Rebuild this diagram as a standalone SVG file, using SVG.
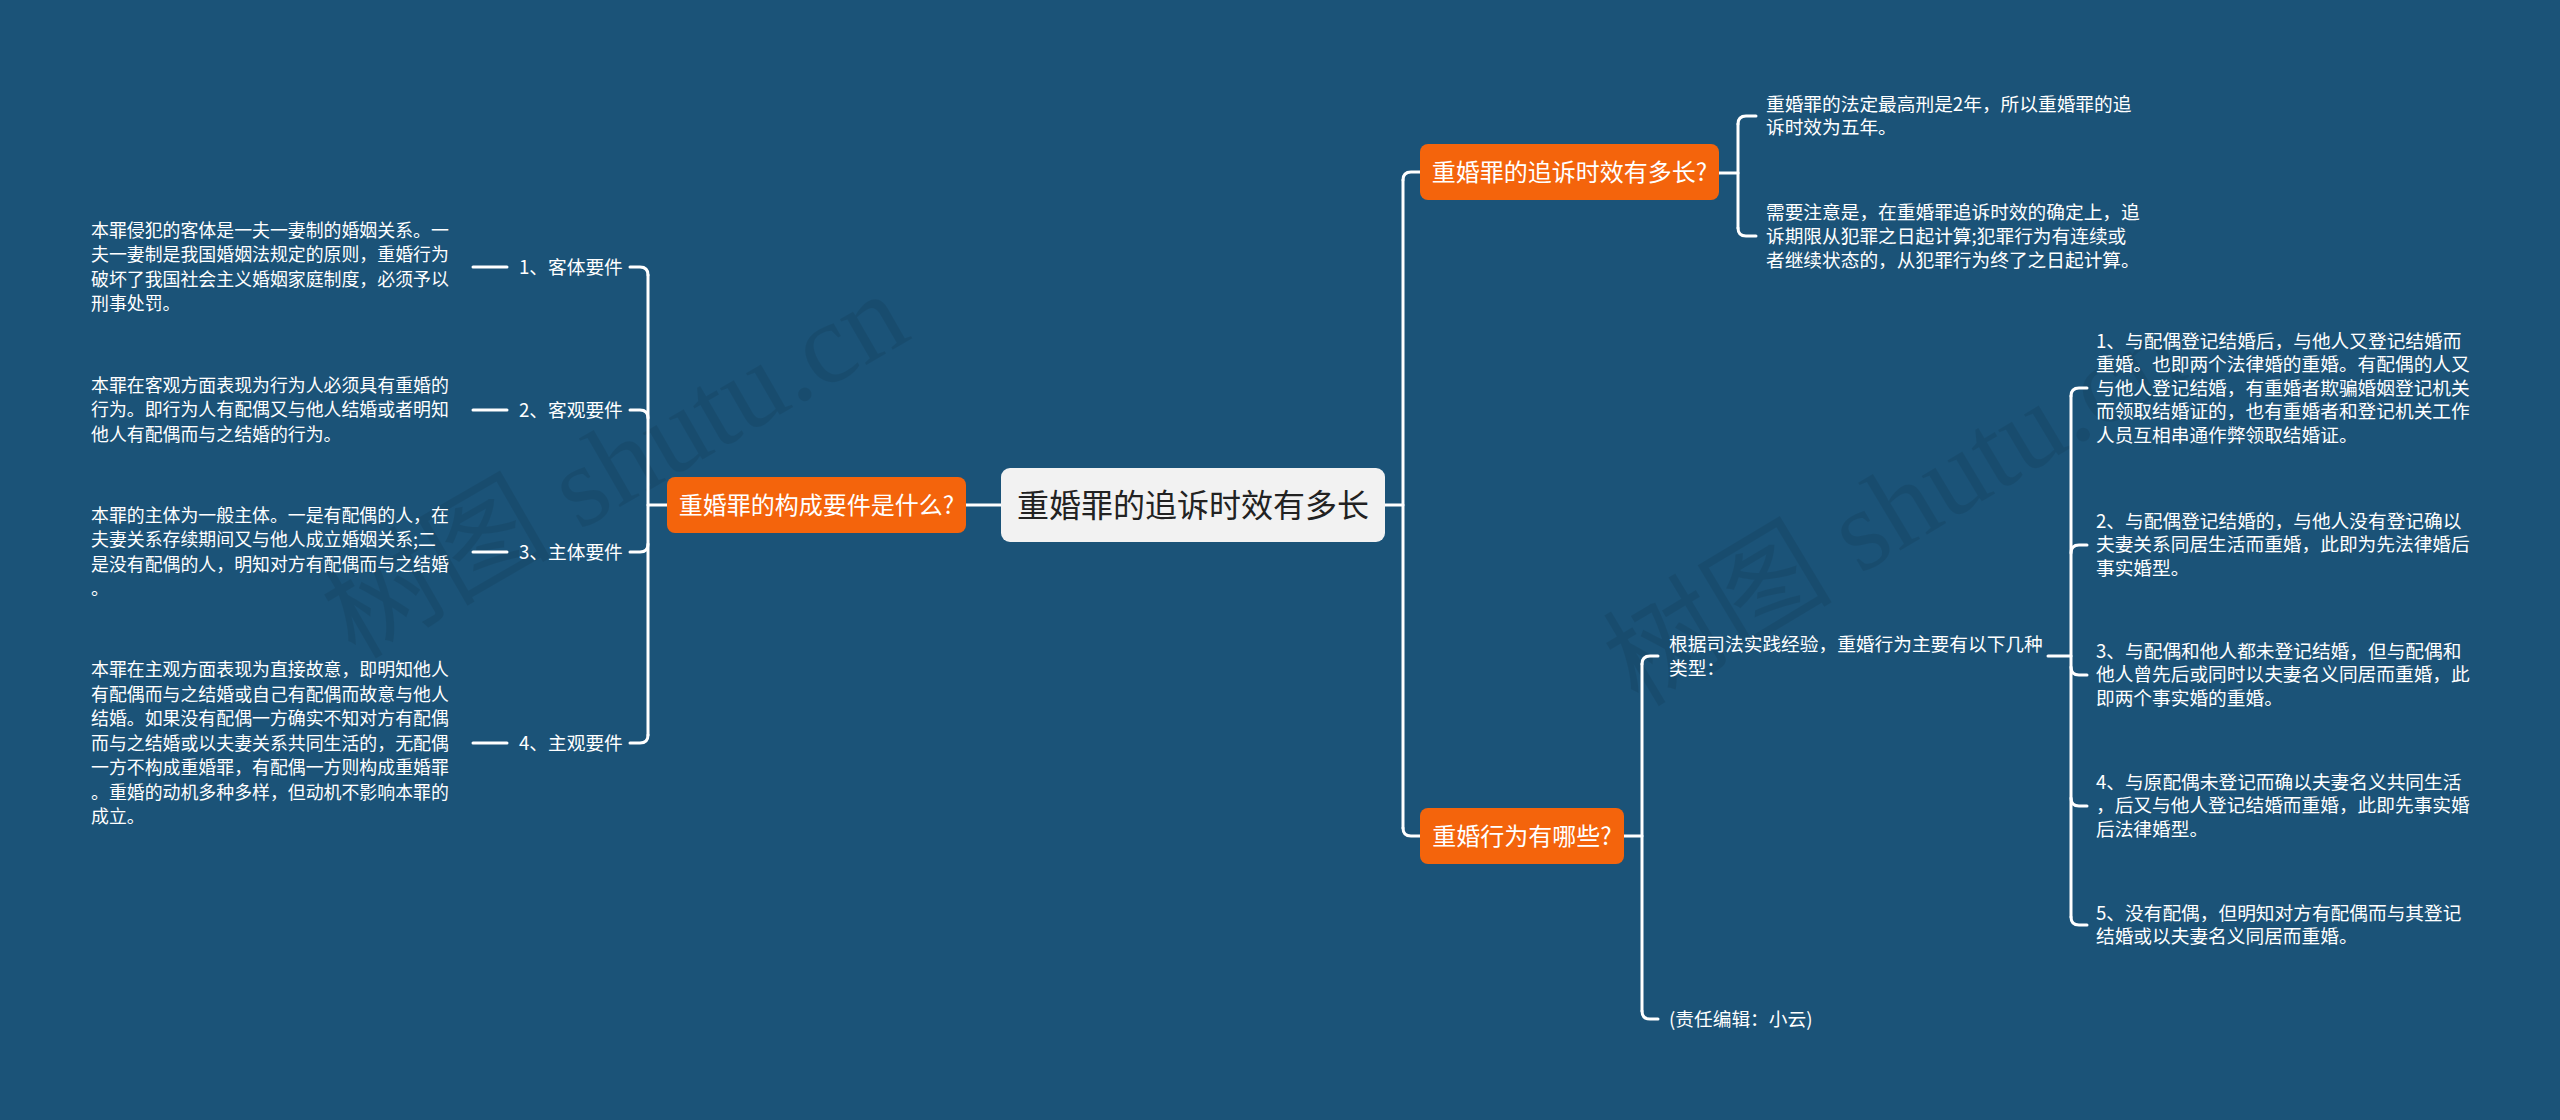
<svg xmlns="http://www.w3.org/2000/svg" width="2560" height="1120" viewBox="0 0 2560 1120">
<style>
.bg{fill:#1b5378}
.wm{font-family:"Liberation Serif","Noto Sans CJK SC",serif;font-size:115px;fill:#000;fill-opacity:0.08}
.ln{fill:none;stroke:#fff;stroke-width:3;stroke-linecap:round}
.root rect{fill:#f2f2f2}
.root text{font-family:"Noto Sans CJK SC","Liberation Sans",sans-serif;font-size:32px;fill:#222}
.main rect{fill:#f4640c}
.main text{font-family:"Noto Sans CJK SC","Liberation Sans",sans-serif;font-size:24px;fill:#fff}
.lbl{font-family:"Noto Sans CJK SC","Liberation Sans",sans-serif;font-size:18.7px;fill:#fff}
.dl{font-family:"Noto Sans CJK SC","Liberation Sans",sans-serif;font-size:17.9px;fill:#fff}
.dr{font-family:"Noto Sans CJK SC","Liberation Sans",sans-serif;font-size:18.7px;fill:#fff}
</style>
<rect class="bg" x="0" y="0" width="2560" height="1120"/>
<g id="watermarks">
<text class="wm" x="355" y="660" transform="rotate(-30 355 660)">树图 shutu.cn</text>
<text class="wm" x="1638" y="708" transform="rotate(-31 1638 708)">树图 shutu.cn</text>
</g>
<g id="connectors">
<path class="ln" d="M966,505 H1001"/>
<path class="ln" d="M648,505 H667"/>
<path class="ln" d="M648,275 V735"/>
<path class="ln" d="M648,275 Q648,267 640,267 H630"/>
<path class="ln" d="M648,418 Q648,410 640,410 H630"/>
<path class="ln" d="M648,544 Q648,552 640,552 H630"/>
<path class="ln" d="M648,735 Q648,743 640,743 H630"/>
<path class="ln" d="M473,267 H507"/>
<path class="ln" d="M473,410 H507"/>
<path class="ln" d="M473,552 H507"/>
<path class="ln" d="M473,743 H507"/>
<path class="ln" d="M1385,505 H1403"/>
<path class="ln" d="M1403,180 V828"/>
<path class="ln" d="M1403,180 Q1403,172 1411,172 H1420"/>
<path class="ln" d="M1403,828 Q1403,836 1411,836 H1420"/>
<path class="ln" d="M1719,173 H1738"/>
<path class="ln" d="M1738,124 V228"/>
<path class="ln" d="M1738,124 Q1738,116 1746,116 H1756"/>
<path class="ln" d="M1738,228 Q1738,236 1746,236 H1756"/>
<path class="ln" d="M1624,836 H1642"/>
<path class="ln" d="M1642,664 V1011"/>
<path class="ln" d="M1642,664 Q1642,656 1650,656 H1658"/>
<path class="ln" d="M1642,1011 Q1642,1019 1650,1019 H1658"/>
<path class="ln" d="M2048,656 H2071"/>
<path class="ln" d="M2071,396 V917"/>
<path class="ln" d="M2071,396 Q2071,388 2079,388 H2087"/>
<path class="ln" d="M2071,553 Q2071,545 2079,545 H2087"/>
<path class="ln" d="M2071,667 Q2071,675 2079,675 H2087"/>
<path class="ln" d="M2071,798 Q2071,806 2079,806 H2087"/>
<path class="ln" d="M2071,917 Q2071,925 2079,925 H2087"/>
</g>
<g id="root" class="root">
<rect x="1001" y="468" width="384" height="74" rx="9"/>
<text x="1193" y="516.5" text-anchor="middle">重婚罪的追诉时效有多长</text>
</g>
<g id="n-left" class="main">
<rect x="667" y="477" width="299" height="56" rx="8"/>
<text x="816.5" y="513.5" text-anchor="middle">重婚罪的构成要件是什么?</text>
</g>
<g id="n-r1" class="main">
<rect x="1420" y="144" width="299" height="56" rx="8"/>
<text x="1569.5" y="180.5" text-anchor="middle">重婚罪的追诉时效有多长?</text>
</g>
<g id="n-r2" class="main">
<rect x="1420" y="808" width="204" height="56" rx="8"/>
<text x="1522" y="844.5" text-anchor="middle">重婚行为有哪些?</text>
</g>
<g id="l1"><text class="lbl" x="519" y="273.5">1、客体要件</text></g>
<g id="l2"><text class="lbl" x="519" y="416.5">2、客观要件</text></g>
<g id="l3"><text class="lbl" x="519" y="558.5">3、主体要件</text></g>
<g id="l4"><text class="lbl" x="519" y="749.5">4、主观要件</text></g>
<g id="d1"><text class="dl">
<tspan x="91" y="236.5">本罪侵犯的客体是一夫一妻制的婚姻关系。一</tspan>
<tspan x="91" y="261">夫一妻制是我国婚姻法规定的原则，重婚行为</tspan>
<tspan x="91" y="285.5">破坏了我国社会主义婚姻家庭制度，必须予以</tspan>
<tspan x="91" y="310">刑事处罚。</tspan></text></g>
<g id="d2"><text class="dl">
<tspan x="91" y="391.5">本罪在客观方面表现为行为人必须具有重婚的</tspan>
<tspan x="91" y="416">行为。即行为人有配偶又与他人结婚或者明知</tspan>
<tspan x="91" y="440.5">他人有配偶而与之结婚的行为。</tspan></text></g>
<g id="d3"><text class="dl">
<tspan x="91" y="521.5">本罪的主体为一般主体。一是有配偶的人，在</tspan>
<tspan x="91" y="546">夫妻关系存续期间又与他人成立婚姻关系;二</tspan>
<tspan x="91" y="570.5">是没有配偶的人，明知对方有配偶而与之结婚</tspan>
<tspan x="91" y="595">。</tspan></text></g>
<g id="d4"><text class="dl">
<tspan x="91" y="676">本罪在主观方面表现为直接故意，即明知他人</tspan>
<tspan x="91" y="700.5">有配偶而与之结婚或自己有配偶而故意与他人</tspan>
<tspan x="91" y="725">结婚。如果没有配偶一方确实不知对方有配偶</tspan>
<tspan x="91" y="749.5">而与之结婚或以夫妻关系共同生活的，无配偶</tspan>
<tspan x="91" y="774">一方不构成重婚罪，有配偶一方则构成重婚罪</tspan>
<tspan x="91" y="798.5">。重婚的动机多种多样，但动机不影响本罪的</tspan>
<tspan x="91" y="823">成立。</tspan></text></g>
<g id="r1a"><text class="dr">
<tspan x="1766" y="110.5">重婚罪的法定最高刑是2年，所以重婚罪的追</tspan>
<tspan x="1766" y="134">诉时效为五年。</tspan></text></g>
<g id="r1b"><text class="dr">
<tspan x="1766" y="218.5">需要注意是，在重婚罪追诉时效的确定上，追</tspan>
<tspan x="1766" y="242.5">诉期限从犯罪之日起计算;犯罪行为有连续或</tspan>
<tspan x="1766" y="266.5">者继续状态的，从犯罪行为终了之日起计算。</tspan></text></g>
<g id="r2a"><text class="dr">
<tspan x="1669" y="651">根据司法实践经验，重婚行为主要有以下几种</tspan>
<tspan x="1669" y="674.5">类型：</tspan></text></g>
<g id="r2b"><text class="dr" x="1669" y="1025.5">(责任编辑：小云)</text></g>
<g id="s1"><text class="dr">
<tspan x="2096" y="348">1、与配偶登记结婚后，与他人又登记结婚而</tspan>
<tspan x="2096" y="371.4">重婚。也即两个法律婚的重婚。有配偶的人又</tspan>
<tspan x="2096" y="394.8">与他人登记结婚，有重婚者欺骗婚姻登记机关</tspan>
<tspan x="2096" y="418.2">而领取结婚证的，也有重婚者和登记机关工作</tspan>
<tspan x="2096" y="441.6">人员互相串通作弊领取结婚证。</tspan></text></g>
<g id="s2"><text class="dr">
<tspan x="2096" y="528">2、与配偶登记结婚的，与他人没有登记确以</tspan>
<tspan x="2096" y="551.4">夫妻关系同居生活而重婚，此即为先法律婚后</tspan>
<tspan x="2096" y="574.8">事实婚型。</tspan></text></g>
<g id="s3"><text class="dr">
<tspan x="2096" y="658">3、与配偶和他人都未登记结婚，但与配偶和</tspan>
<tspan x="2096" y="681.4">他人曾先后或同时以夫妻名义同居而重婚，此</tspan>
<tspan x="2096" y="704.8">即两个事实婚的重婚。</tspan></text></g>
<g id="s4"><text class="dr">
<tspan x="2096" y="789">4、与原配偶未登记而确以夫妻名义共同生活</tspan>
<tspan x="2096" y="812.4">，后又与他人登记结婚而重婚，此即先事实婚</tspan>
<tspan x="2096" y="835.8">后法律婚型。</tspan></text></g>
<g id="s5"><text class="dr">
<tspan x="2096" y="919.5">5、没有配偶，但明知对方有配偶而与其登记</tspan>
<tspan x="2096" y="942.9">结婚或以夫妻名义同居而重婚。</tspan></text></g>
</svg>
